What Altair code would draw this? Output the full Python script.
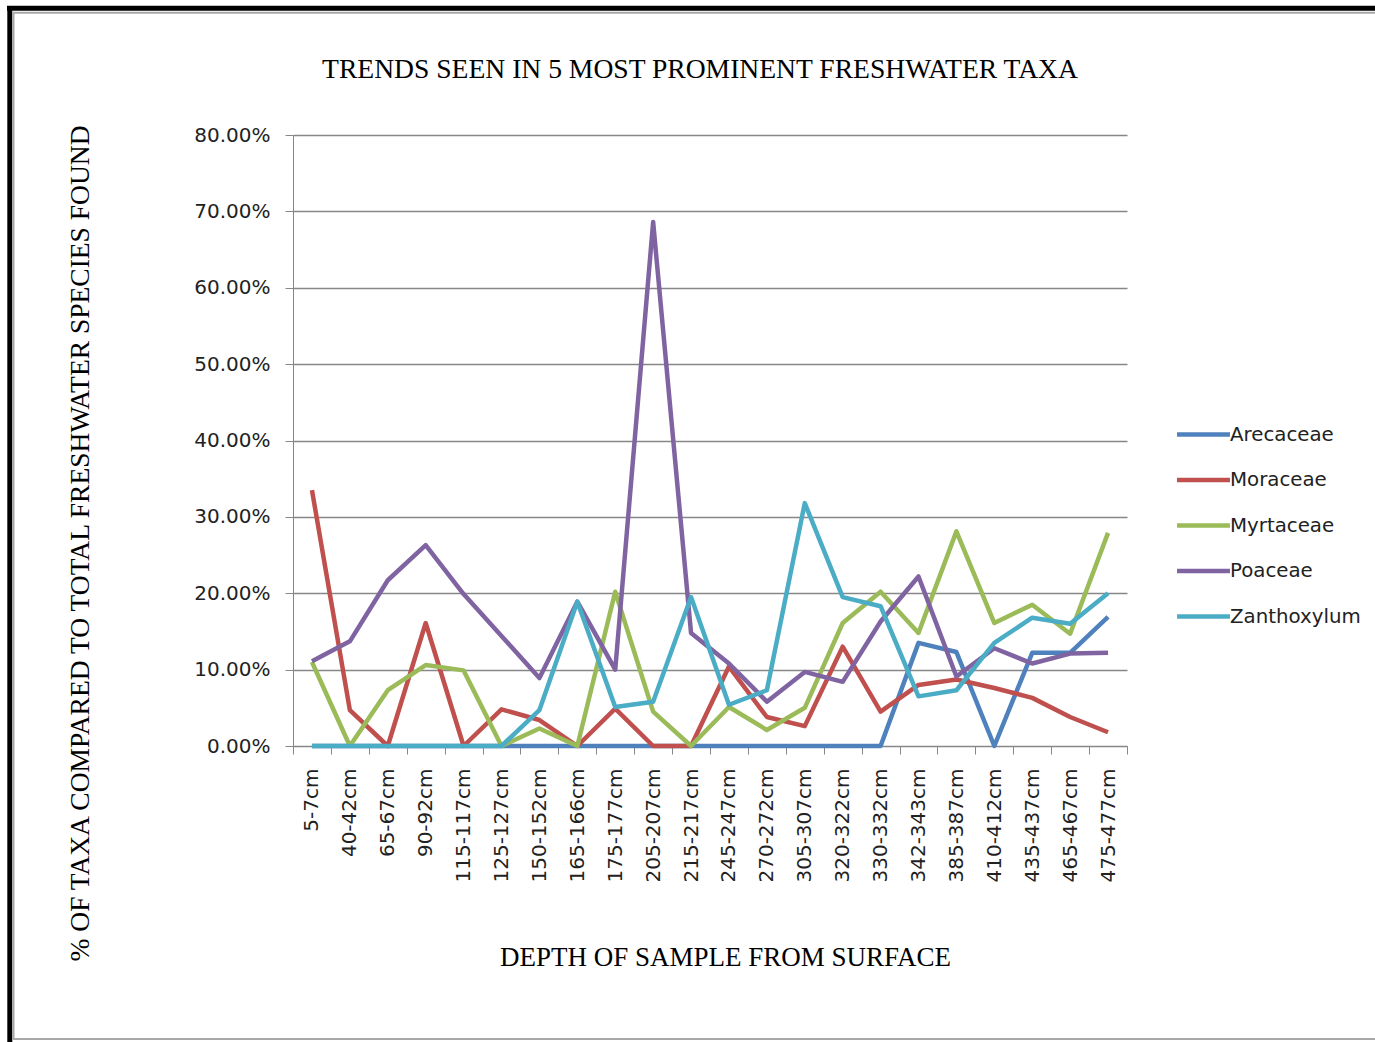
import altair as alt
import pandas as pd

# Sample depths (x categories, top to bottom of the core)
depths = [
    "5-7cm", "40-42cm", "65-67cm", "90-92cm", "115-117cm", "125-127cm",
    "150-152cm", "165-166cm", "175-177cm", "205-207cm", "215-217cm",
    "245-247cm", "270-272cm", "305-307cm", "320-322cm", "330-332cm",
    "342-343cm", "385-387cm", "410-412cm", "435-437cm", "465-467cm",
    "475-477cm",
]

# Share of each taxon in the freshwater total, in percent
arecaceae = [0, 0, 0, 0, 0, 0, 0, 0, 0, 0, 0, 0, 0, 0, 0, 0,
             13.5, 12.3, 0, 12.2, 12.2, 16.9]
moraceae = [33.5, 4.7, 0, 16.1, 0, 4.8, 3.4, 0, 4.9, 0, 0,
            10.4, 3.8, 2.6, 13.0, 4.5, 8.0, 8.7, 7.6, 6.3, 3.8, 1.8]
myrtaceae = [11.0, 0, 7.3, 10.6, 9.9, 0, 2.3, 0, 20.2, 4.5, 0,
             5.1, 2.1, 5.0, 16.1, 20.2, 14.8, 28.1, 16.1, 18.5, 14.7, 27.9]
poaceae = [11.1, 13.7, 21.7, 26.3, 19.9, 14.4, 8.9, 18.9, 10.0, 68.6, 14.8,
           10.8, 5.8, 9.7, 8.4, 16.3, 22.2, 9.1, 12.8, 10.8, 12.1, 12.2]
zanthoxylum = [0, 0, 0, 0, 0, 0, 4.7, 18.9, 5.1, 5.8, 19.5,
               5.4, 7.3, 31.8, 19.5, 18.3, 6.5, 7.3, 13.5, 16.8, 16.0, 20.0]

series_names = ["Arecaceae", "Moraceae", "Myrtaceae", "Poaceae", "Zanthoxylum"]
series_values = [arecaceae, moraceae, myrtaceae, poaceae, zanthoxylum]
series_colors = ["#4F81BD", "#C0504D", "#9BBB59", "#8064A2", "#4BACC6"]

y_ticks = [0, 0.1, 0.2, 0.3, 0.4, 0.5, 0.6, 0.7, 0.8]

chart_title = "TRENDS SEEN IN 5 MOST PROMINENT FRESHWATER TAXA"

rows = []
for name, values in zip(series_names, series_values):
    for i, (depth, v) in enumerate(zip(depths, values)):
        rows.append({"taxon": name, "depth": depth, "idx": i, "share": v / 100})
df = pd.DataFrame(rows)

W, H = 834, 611
LEFT, TOP = 293, 135
SERIF = "Liberation Serif"
SANS = "DejaVu Sans"
GRID = "#878787"

lines = alt.Chart(df).mark_line(strokeWidth=4.5, strokeJoin="round").encode(
    x=alt.X(
        "depth:N",
        sort=depths,
        bandPosition=0.5,
        scale=alt.Scale(type="band", paddingInner=0, paddingOuter=0),
        axis=alt.Axis(
            title="DEPTH OF SAMPLE FROM SURFACE",
            titleFont=SERIF, titleFontSize=27, titleFontWeight="normal",
            titleColor="black", titleAlign="center", titleBaseline="middle",
            titleX=432, titleY=211, titleAngle=0,
            labelAngle=270, labelFont=SANS, labelFontSize=20,
            labelColor="#222222", labelAlign="right", labelBaseline="middle",
            labelPadding=14, tickBand="extent", tickSize=8,
            tickColor=GRID, domainColor=GRID, grid=False,
            labelOverlap=False,
        ),
    ),
    y=alt.Y(
        "share:Q",
        scale=alt.Scale(domain=[0, 0.8], nice=False),
        axis=alt.Axis(
            title="% OF TAXA COMPARED TO TOTAL FRESHWATER SPECIES FOUND",
            titleFont=SERIF, titleFontSize=27.5, titleFontWeight="normal",
            titleColor="black", titleAngle=270, titleAlign="center",
            titleBaseline="middle", titleX=-213, titleY=408,
            values=y_ticks, format=".2%",
            labelFont=SANS, labelFontSize=20, labelColor="#222222",
            labelPadding=15, tickSize=8, tickColor=GRID,
            domainColor=GRID, gridColor=GRID, gridWidth=1.3,
        ),
    ),
    color=alt.Color(
        "taxon:N",
        scale=alt.Scale(domain=series_names, range=series_colors),
        legend=alt.Legend(
            title=None, orient="none", legendX=895, legendY=284,
            symbolType="M-2,0H2", symbolSize=700, symbolStrokeWidth=4.5,
            labelFont=SANS, labelFontSize=19.8, labelColor="#222222",
            labelOffset=11, rowPadding=19.5, padding=0,
        ),
    ),
    order=alt.Order("idx:Q"),
)

# Page frame: thick black edge on top and left, thin grey inner outline
frame_src = pd.DataFrame({"k": [0]})
frame = alt.Chart(frame_src)
black_top = frame.mark_rule(color="black", strokeWidth=5).encode(
    x=alt.value(7 - LEFT), x2=alt.value(1375 - LEFT), y=alt.value(8.3 - TOP))
black_left = frame.mark_rule(color="black", strokeWidth=5).encode(
    x=alt.value(9.8 - LEFT), y=alt.value(6 - TOP), y2=alt.value(1042 - TOP))
grey_top = frame.mark_rule(color="#a8a8a8", strokeWidth=2).encode(
    x=alt.value(13 - LEFT), x2=alt.value(1375 - LEFT), y=alt.value(12.8 - TOP))
grey_left = frame.mark_rule(color="#a8a8a8", strokeWidth=2).encode(
    x=alt.value(13.5 - LEFT), y=alt.value(12 - TOP), y2=alt.value(1040 - TOP))
grey_bottom = frame.mark_rule(color="#a8a8a8", strokeWidth=2).encode(
    x=alt.value(13 - LEFT), x2=alt.value(1375 - LEFT), y=alt.value(1039 - TOP))

# Chart heading above the plot area
heading = frame.mark_text(
    font=SERIF, fontSize=27.6, color="black", align="center",
    baseline="alphabetic",
).encode(
    x=alt.value(700 - LEFT), y=alt.value(78 - TOP), text=alt.value(chart_title)
)

chart = alt.layer(
    black_top, black_left, grey_top, grey_left, grey_bottom, heading, lines
).properties(
    width=W,
    height=H,
    autosize=alt.AutoSizeParams(type="none"),
    padding={"left": LEFT, "top": TOP, "right": 1375 - LEFT - W,
             "bottom": 1042 - TOP - H},
).configure(
    background="white"
).configure_view(
    stroke=None
)

chart.save("out.html", embed_options={"renderer": "svg", "actions": False})
